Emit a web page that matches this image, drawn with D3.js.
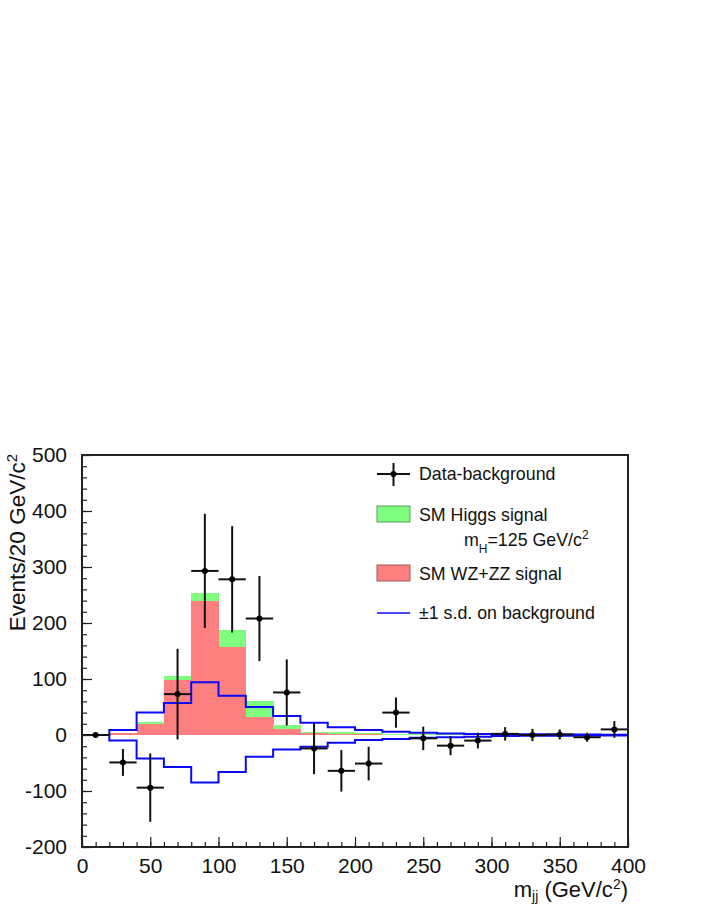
<!DOCTYPE html>
<html>
<head>
<meta charset="utf-8">
<script src="https://cdn.jsdelivr.net/npm/d3@7"></script>
<style>
  body { margin: 0; background: #fff; }
  text { font-family: "Liberation Sans", Arial, Helvetica, sans-serif; }
</style>
</head>
<body>
<div id="plot"></div>
<script>
// bins of 20 GeV/c^2
var binLow  = [0, 20, 40, 60, 80, 100, 120, 140, 160, 180, 200, 220, 240, 260, 280, 300, 320, 340, 360, 380];
var binHigh = [20, 40, 60, 80, 100, 120, 140, 160, 180, 200, 220, 240, 260, 280, 300, 320, 340, 360, 380, 400];

// SM WZ+ZZ signal (red) and SM Higgs signal stacked on top (green)
var wzzz  = [0, 3, 20, 99, 239, 158, 32, 10, 3, 2, 1, 0.5, 0.3, 0.2, 0, 0, 0, 0, 0, 0];
var higgs = [0, 1, 3, 6, 15, 30, 29, 8, 3, 3, 2, 1.5, 1, 0.8, 0.3, 0, 0, 0, 0, 0];

// +-1 s.d. on background
var bandUp = [0, 9, 40, 57, 94, 70, 50, 34, 22, 14, 9, 6, 4, 2.5, 2, 1.5, 1.2, 1, 0.8, 0.6];
var bandDn = [0, -10, -42, -57, -85, -66, -39, -26, -21, -14, -9, -7, -5, -4, -3, -2, -1.5, -1.2, -1, -0.8];

// data - background
var dataX   = [10, 30, 50, 70, 90, 110, 130, 150, 170, 190, 210, 230, 250, 270, 290, 310, 330, 350, 370, 390];
var dataY   = [0, -49, -94, 73, 293, 278, 208, 76, -24, -64, -51, 40, -6, -19, -10, 2, 0, 1, -4, 10];
var dataErr = [0, 24, 61, 81, 102, 95, 76, 59, 46, 37, 30, 27, 21, 17, 14, 12, 11, 9, 8, 15];

var xTicks = [0, 50, 100, 150, 200, 250, 300, 350, 400];
var yTicks = [-200, -100, 0, 100, 200, 300, 400, 500];

var W = 706, H = 913;
var pLeft = 82, pRight = 628, pTop = 455, pBottom = 847; // plot frame in pixels

var svg = d3.select("#plot").append("svg")
    .attr("width", W)
    .attr("height", H);

var x = d3.scaleLinear().domain([0, 400]).range([pLeft, pRight]);
var y = d3.scaleLinear().domain([-200, 500]).range([pBottom, pTop]);

// stacked fills
var g = svg.append("g").attr("shape-rendering", "crispEdges");
binLow.forEach(function (lo, i) {
    var tot = wzzz[i] + higgs[i];
    if (tot > 0) {
        g.append("rect")
            .attr("x", x(lo)).attr("width", x(binHigh[i]) - x(lo) + 0.5)
            .attr("y", y(tot)).attr("height", y(0) - y(tot))
            .attr("fill", "#7ffd7f");
    }
    if (wzzz[i] > 0) {
        g.append("rect")
            .attr("x", x(lo)).attr("width", x(binHigh[i]) - x(lo) + 0.5)
            .attr("y", y(wzzz[i])).attr("height", y(0) - y(wzzz[i]))
            .attr("fill", "#fe7f7f");
    }
});

// step lines for the band
function steps(vals) {
    var pts = [];
    binLow.forEach(function (lo, i) {
        pts.push([lo, vals[i]]);
        pts.push([binHigh[i], vals[i]]);
    });
    return pts;
}
var stepLine = d3.line()
    .x(function (d) { return x(d[0]); })
    .y(function (d) { return y(d[1]); });

[bandUp, bandDn].forEach(function (b) {
    svg.append("path")
        .attr("d", stepLine(steps(b)))
        .attr("fill", "none")
        .attr("stroke", "#0a0af5")
        .attr("stroke-width", 2);
});

// data points with errors
var pts = svg.append("g");
dataX.forEach(function (cx, i) {
    pts.append("line")
        .attr("x1", x(binLow[i])).attr("x2", x(binHigh[i]))
        .attr("y1", y(dataY[i])).attr("y2", y(dataY[i]))
        .attr("stroke", "#111").attr("stroke-width", 2);
    if (dataErr[i] > 0) {
        pts.append("line")
            .attr("x1", x(cx)).attr("x2", x(cx))
            .attr("y1", y(dataY[i] - dataErr[i])).attr("y2", y(dataY[i] + dataErr[i]))
            .attr("stroke", "#111").attr("stroke-width", 2);
    }
    pts.append("circle")
        .attr("cx", x(cx)).attr("cy", y(dataY[i]))
        .attr("r", 3).attr("fill", "#000");
});

// axes (ticks inside, ROOT style), plain hyphen for negatives
var plain = function (d) { return String(d); };
var xAxis = d3.axisBottom(x).tickValues(xTicks).tickSize(-10).tickPadding(11).tickFormat(plain);
var xMinor = d3.axisBottom(x).ticks(40).tickSize(-5).tickFormat("");
var yAxis = d3.axisLeft(y).tickValues(yTicks).tickSize(-10).tickPadding(15).tickFormat(plain);
var yMinor = d3.axisLeft(y).ticks(35).tickSize(-5).tickFormat("");

function styleAxis(sel) {
    sel.select(".domain").remove();
    sel.selectAll("line").attr("stroke", "#222").attr("stroke-width", 1.2);
    sel.selectAll("text").attr("font-size", 21).attr("fill", "#111")
        .attr("font-family", "Liberation Sans, Arial, sans-serif");
}

svg.append("g").attr("transform", "translate(0," + pBottom + ")").call(xMinor).call(styleAxis);
svg.append("g").attr("transform", "translate(0," + pBottom + ")").call(xAxis).call(styleAxis);
svg.append("g").attr("transform", "translate(" + pLeft + ",0)").call(yMinor).call(styleAxis);
svg.append("g").attr("transform", "translate(" + pLeft + ",0)").call(yAxis).call(styleAxis);

// frame
svg.append("rect")
    .attr("x", pLeft).attr("y", pTop)
    .attr("width", pRight - pLeft).attr("height", pBottom - pTop)
    .attr("fill", "none").attr("stroke", "#222").attr("stroke-width", 2);

// axis titles
var yt = svg.append("text")
    .attr("transform", "translate(25," + (pTop - 1) + ") rotate(-90)")
    .attr("text-anchor", "end")
    .attr("font-size", 22.5).attr("fill", "#111");
yt.append("tspan").text("Events/20 GeV/c");
yt.append("tspan").attr("baseline-shift", "super").attr("font-size", 15).text("2");

var xt = svg.append("text")
    .attr("x", pRight).attr("y", 897)
    .attr("text-anchor", "end")
    .attr("font-size", 22).attr("fill", "#111");
xt.append("tspan").text("m");
xt.append("tspan").attr("baseline-shift", "-30%").attr("font-size", 14).text("jj");
xt.append("tspan").text(" (GeV/c");
xt.append("tspan").attr("baseline-shift", "super").attr("font-size", 14).text("2");
xt.append("tspan").text(")");

// legend
var lg = svg.append("g").attr("font-size", 17.8).attr("fill", "#111");
var lx = 377, lw = 33, tx = 419;

lg.append("line").attr("x1", lx).attr("x2", lx + lw).attr("y1", 474).attr("y2", 474)
    .attr("stroke", "#111").attr("stroke-width", 2);
lg.append("line").attr("x1", lx + lw / 2).attr("x2", lx + lw / 2).attr("y1", 463).attr("y2", 486)
    .attr("stroke", "#111").attr("stroke-width", 2);
lg.append("circle").attr("cx", lx + lw / 2).attr("cy", 474).attr("r", 3).attr("fill", "#000");
lg.append("text").attr("x", tx).attr("y", 480).text("Data-background");

lg.append("rect").attr("x", lx).attr("y", 506).attr("width", lw).attr("height", 16)
    .attr("fill", "#7ffd7f").attr("stroke", "#5c9c5c").attr("stroke-width", 1);
lg.append("text").attr("x", tx).attr("y", 521).text("SM Higgs signal");
var mh = lg.append("text").attr("x", 464).attr("y", 546);
mh.append("tspan").text("m");
mh.append("tspan").attr("baseline-shift", "sub").attr("font-size", 12).text("H");
mh.append("tspan").text("=125 GeV/c");
mh.append("tspan").attr("baseline-shift", "super").attr("font-size", 12).text("2");

lg.append("rect").attr("x", lx).attr("y", 565).attr("width", lw).attr("height", 16)
    .attr("fill", "#fe7f7f").attr("stroke", "#a05a5a").attr("stroke-width", 1);
lg.append("text").attr("x", tx).attr("y", 580).text("SM WZ+ZZ signal");

lg.append("line").attr("x1", lx).attr("x2", lx + lw).attr("y1", 613).attr("y2", 613)
    .attr("stroke", "#0a0af5").attr("stroke-width", 1.5);
lg.append("text").attr("x", tx).attr("y", 619).text("\u00b11 s.d. on background");
</script>
</body>
</html>
